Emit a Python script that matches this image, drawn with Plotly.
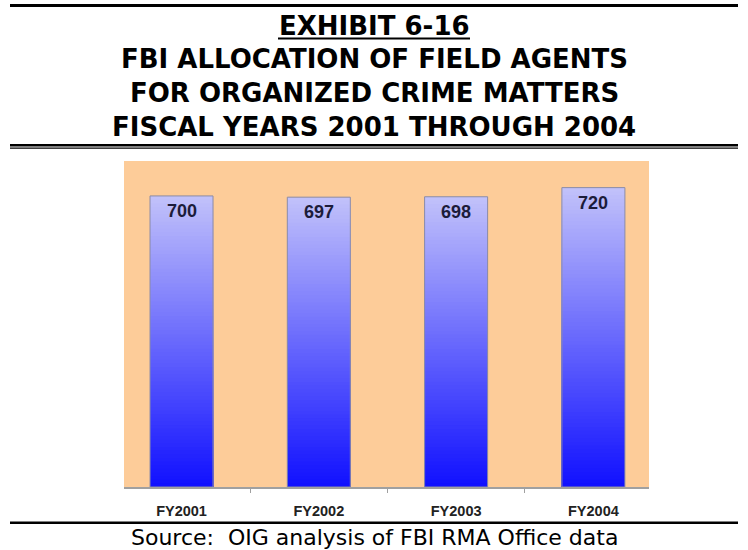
import plotly.graph_objects as go

# ---- data ----
categories = ["FY2001", "FY2002", "FY2003", "FY2004"]
agents = [700, 697, 698, 720]
title_lines = ["EXHIBIT 6-16", "FBI ALLOCATION OF FIELD AGENTS",
               "FOR ORGANIZED CRIME MATTERS", "FISCAL YEARS 2001 THROUGH 2004"]
source_text = "Source:\u00a0\u00a0OIG analysis of FBI RMA Office data"

# ---- layout geometry (pixels) ----
W, H = 748, 550
PL, PR, PT, PB = 124, 649, 161, 487


def px(x):
    return (x - PL) / (PR - PL)


def py(y):
    return (PB - y) / (PB - PT)


xpos = list(range(len(categories)))
top_rgb = (194, 194, 250)
bot_rgb = (16, 16, 255)
N = 80

fig = go.Figure()
# gradient: draw from tallest (top colour) to shortest (bottom colour)
for k in range(N - 1, -1, -1):
    t = (k + 0.5) / N  # 0 bottom -> 1 top
    c = tuple(round(b + (tp - b) * t) for b, tp in zip(bot_rgb, top_rgb))
    fig.add_trace(go.Bar(
        x=xpos,
        y=[v * (k + 1) / N for v in agents],
        width=0.459,
        marker=dict(color="rgb(%d,%d,%d)" % c, line=dict(width=0)),
        hoverinfo="skip", showlegend=False,
    ))
# outline
fig.add_trace(go.Bar(
    x=xpos, y=agents, width=0.459,
    marker=dict(color="rgba(0,0,0,0)", line=dict(color="#8c8ca6", width=1)),
    showlegend=False,
))

annotations = []
for i, v in enumerate(agents):
    annotations.append(dict(
        x=xpos[i], y=v, xref="x", yref="y", text="<b>%d</b>" % v,
        showarrow=False, yanchor="middle", yshift=-15,
        font=dict(family="Liberation Sans", size=18, color="#1c1c3a"),
    ))

title_centers = [26, 59, 93, 127]
for line, yc in zip(title_lines, title_centers):
    annotations.append(dict(
        x=px(374), y=py(yc), xref="paper", yref="paper",
        text="<b>%s</b>" % line, showarrow=False,
        xanchor="center", yanchor="middle",
        font=dict(family="DejaVu Sans", size=26, color="black"),
    ))

annotations.append(dict(
    x=px(374), y=py(537), xref="paper", yref="paper",
    text=source_text, showarrow=False, xanchor="center", yanchor="middle",
    font=dict(family="DejaVu Sans", size=22, color="black"),
))


def rect(x0, x1, y0, y1):
    return dict(type="rect", xref="paper", yref="paper",
                x0=px(x0), x1=px(x1), y0=py(y0), y1=py(y1),
                fillcolor="black", line=dict(width=0), layer="above")


shapes = [
    rect(10, 738, 4, 7),
    rect(278, 470, 37.5, 39.5),
    rect(10, 738, 144, 146.5),
    rect(10, 738, 147.4, 148.8),
    rect(10, 738, 521.5, 524),
]

fig.update_layout(
    width=W, height=H,
    margin=dict(l=PL, r=W - PR, t=PT, b=H - PB, pad=0),
    barmode="overlay",
    plot_bgcolor="#FDCC99",
    paper_bgcolor="white",
    showlegend=False,
    annotations=annotations,
    shapes=shapes,
    xaxis=dict(
        range=[-0.419, 3.405], tickmode="array", tickvals=xpos,
        ticktext=["<b>%s</b>" % c for c in categories],
        ticks="", showgrid=False, zeroline=False,
        showline=True, linecolor="#a0a0a0", linewidth=1.5,
        tickfont=dict(family="Liberation Sans", size=14.5, color="#222222"),
        ticklabelstandoff=10,
        minor=dict(tickmode="array", tickvals=[0.5, 1.5, 2.5], ticks="outside",
                   ticklen=4, tickcolor="#a0a0a0", tickwidth=1, showgrid=False),
        fixedrange=True,
    ),
    yaxis=dict(range=[0, 784], visible=False, showgrid=False, fixedrange=True),
)

fig.write_html(
    "out.html",
    config={"displayModeBar": False},
    post_script="document.body.style.margin='0';document.body.style.overflow='hidden';",
)
